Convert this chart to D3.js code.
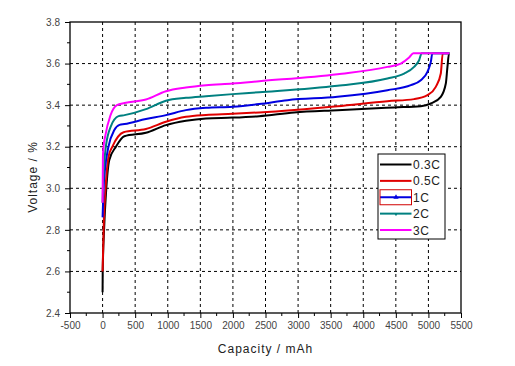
<!DOCTYPE html>
<html><head><meta charset="utf-8">
<script src="https://cdn.jsdelivr.net/npm/d3@7/dist/d3.min.js"></script>
<style>
body{margin:0;background:#fff;}
svg{display:block;font-family:Arial,"Liberation Sans",sans-serif;}
</style></head>
<body><svg id="c" width="515" height="366"></svg>
<script>
const seriesNames = ["0.3C","0.5C","1C","2C","3C"];
const seriesColors = ["#000000","#e00000","#0000e0","#008080","#ff00ff"];
const xTicks = [-500,0,500,1000,1500,2000,2500,3000,3500,4000,4500,5000,5500];
const xTickLabels = ["-500","0","500","1000","1500","2000","2500","3000","3500","4000","4500","5000","5500"];
const yTicks = [2.4,2.6,2.8,3.0,3.2,3.4,3.6,3.8];
const yTickLabels = ["2.4","2.6","2.8","3.0","3.2","3.4","3.6","3.8"];

const cap03  = [0,2,25,52,103,205,333,665,972,1279,1586,1994,2403,2940,3604,4474,4883,5037,5190,5267,5292,5317,5320];
const volt03 = [2.50,2.60,2.815,2.975,3.136,3.20,3.25,3.267,3.304,3.325,3.336,3.340,3.347,3.365,3.376,3.389,3.395,3.408,3.44,3.504,3.584,3.65,3.65];
const cap05  = [0,20,45,90,150,322,665,972,1279,1586,1994,2403,3604,4371,4780,4985,5113,5190,5220,5320];
const volt05 = [2.60,2.85,3.00,3.15,3.20,3.27,3.285,3.32,3.344,3.353,3.358,3.365,3.395,3.419,3.429,3.448,3.488,3.552,3.65,3.65];
const cap1   = [0,15,40,90,180,260,337,665,972,1279,1586,1994,2403,2838,3604,4371,4730,4883,4985,5037,5061,5320];
const volt1  = [2.86,3.00,3.10,3.20,3.28,3.305,3.309,3.333,3.352,3.376,3.387,3.392,3.405,3.424,3.44,3.472,3.496,3.52,3.56,3.608,3.65,3.65];
const cap2   = [0,8,20,50,130,245,337,665,972,1279,1586,1994,2403,3604,4371,4627,4780,4857,4898,5320];
const volt2  = [2.93,3.02,3.10,3.20,3.30,3.347,3.352,3.381,3.421,3.435,3.443,3.453,3.462,3.493,3.528,3.552,3.584,3.616,3.65,3.65];
const cap3   = [0,5,15,40,120,220,337,665,972,1279,1586,1994,2403,3604,4371,4576,4704,4770,5320];
const volt3  = [2.93,3.15,3.20,3.25,3.35,3.40,3.41,3.427,3.467,3.485,3.496,3.504,3.515,3.549,3.584,3.60,3.629,3.65,3.65];

const caps = [cap03,cap05,cap1,cap2,cap3];
const volts = [volt03,volt05,volt1,volt2,volt3];
const series = seriesNames.map((n,i)=>({name:n,color:seriesColors[i],pts:caps[i].map((c,j)=>[c,volts[i][j]])}));

const svg = d3.select("#c");
const L=70,R=461,T=22,B=313;
const x = d3.scaleLinear().domain([-500,5500]).range([L,R]);
const y = d3.scaleLinear().domain([2.4,3.8]).range([B,T]);

// grid
const g = svg.append("g");
g.selectAll(".vg").data(xTicks.filter(d=>d>-500&&d<5500)).join("line")
 .attr("x1",d=>x(d)).attr("x2",d=>x(d)).attr("y1",T).attr("y2",B)
 .attr("stroke","#000").attr("stroke-width",1).attr("stroke-dasharray","3,3");
g.selectAll(".hg").data(yTicks.filter(d=>d>2.41&&d<3.79)).join("line")
 .attr("y1",d=>y(d)).attr("y2",d=>y(d)).attr("x1",L).attr("x2",R)
 .attr("stroke","#000").attr("stroke-width",1).attr("stroke-dasharray","3,3");

// curves
const line = d3.line().x(d=>x(d[0])).y(d=>y(d[1])).curve(d3.curveMonotoneX);
svg.append("g").selectAll("path").data(series).join("path")
 .attr("d",d=>line(d.pts)).attr("fill","none").attr("stroke",d=>d.color)
 .attr("stroke-width",2).attr("stroke-linejoin","round");

// frame
svg.append("rect").attr("x",L).attr("y",T).attr("width",R-L).attr("height",B-T)
 .attr("fill","none").attr("stroke","#000").attr("stroke-width",1.3);

// axes
const xAxis = d3.axisBottom(x).tickValues(xTicks).tickSize(5).tickPadding(4).tickFormat((d,i)=>xTickLabels[i]);
const gx = svg.append("g").attr("transform",`translate(0,${B})`).call(xAxis);
const xMinor = d3.range(-250,5500,500);
gx.selectAll(".mn").data(xMinor).join("line").attr("class","mn")
 .attr("x1",d=>x(d)).attr("x2",d=>x(d)).attr("y1",0).attr("y2",3).attr("stroke","#000");
const yAxis = d3.axisLeft(y).tickValues(yTicks).tickSize(5).tickPadding(5).tickFormat((d,i)=>yTickLabels[i]);
const gy = svg.append("g").attr("transform",`translate(${L},0)`).call(yAxis);
const yMinor = d3.range(2.5,3.8,0.2);
gy.selectAll(".mn").data(yMinor).join("line").attr("class","mn")
 .attr("y1",d=>y(d)).attr("y2",d=>y(d)).attr("x1",0).attr("x2",-3).attr("stroke","#000");
[gx,gy].forEach(a=>{
  a.select(".domain").remove();
  a.selectAll(".tick line").attr("stroke","#000");
  a.selectAll("text").attr("fill","#444").attr("font-size","10px").attr("font-family","Arial,'Liberation Sans',sans-serif");
});

// titles
svg.append("text").attr("x",(L+R)/2).attr("y",353).attr("text-anchor","middle")
 .attr("font-size","12px").attr("fill","#222").attr("letter-spacing","1px").text("Capacity / mAh");
svg.append("text").attr("transform",`translate(37,177) rotate(-90)`).attr("text-anchor","middle")
 .attr("font-size","12px").attr("fill","#222").attr("letter-spacing","1px").text("Voltage / %");

// legend
const lg = svg.append("g");
lg.append("rect").attr("x",378).attr("y",154).attr("width",67).attr("height",85)
 .attr("fill","#fff").attr("stroke","#000").attr("stroke-width",1);
const ly = d3.scalePoint().domain(seriesNames).range([164.5,230]);
const items = lg.selectAll("g").data(series).join("g");
items.append("line").attr("x1",380).attr("x2",411.5).attr("y1",d=>ly(d.name)).attr("y2",d=>ly(d.name))
 .attr("stroke",d=>d.color).attr("stroke-width",2);
items.append("text").attr("x",413).attr("y",d=>ly(d.name)+4.5).attr("font-size","12px").attr("fill","#222")
 .attr("letter-spacing","0.5px").text(d=>d.name);
// selection box around 1C
lg.append("rect").attr("x",380).attr("y",ly("1C")-7.5).attr("width",31.5).attr("height",15)
 .attr("fill","none").attr("stroke","#d00000").attr("stroke-width",1);
lg.append("path").attr("d",d3.symbol(d3.symbolTriangle,12)()).attr("transform",`translate(396,${ly("1C")})`).attr("fill","#0000e0");
lg.append("path").attr("d",d3.symbol(d3.symbolTriangle,6)()).attr("transform",`translate(396,${ly("2C")+0.5}) rotate(180)`).attr("fill","#008080");
</script></body></html>
